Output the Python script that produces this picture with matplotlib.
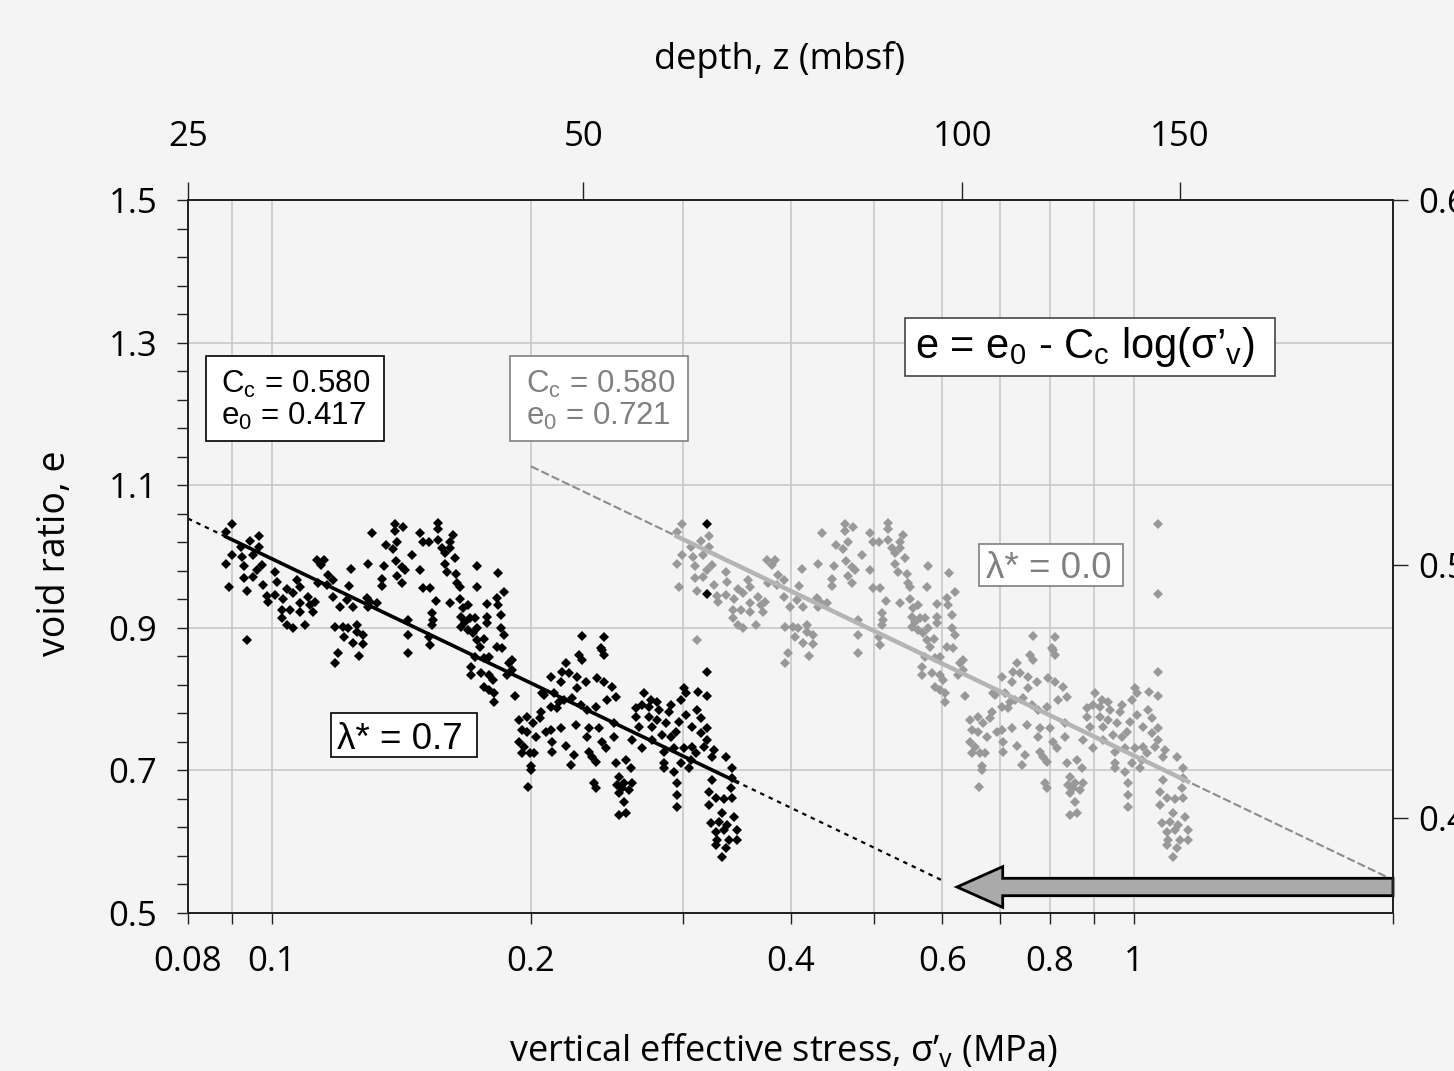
import numpy as np
import matplotlib.pyplot as plt
from matplotlib.patches import Rectangle, FancyArrow

plt.rcParams['font.family'] = ['Open Sans', 'DejaVu Sans']
plt.rcParams['mathtext.fontset'] = 'custom'
plt.rcParams['mathtext.rm'] = 'Liberation Sans'
plt.rcParams['mathtext.it'] = 'Liberation Sans'
plt.rcParams['mathtext.bf'] = 'Liberation Sans:bold'

# ---- data (lambda* = 0.7 case, black points) ----
stress_a = [0.0899, 0.0885, 0.0921, 0.0944, 0.0966, 0.0966, 0.0899, 0.0885, 0.0924, 0.0951,
            0.0929, 0.0974, 0.0961, 0.1009, 0.0929, 0.0951, 0.1014, 0.0892, 0.0936, 0.0977,
            0.1070, 0.1042, 0.1078, 0.0987, 0.1009, 0.0990, 0.1031, 0.1058, 0.1101, 0.1078,
            0.1108, 0.1122, 0.1028, 0.1050, 0.1078, 0.1116, 0.1028, 0.1042, 0.1058, 0.1093,
            0.0936, 0.1128, 0.1150, 0.1141, 0.1162, 0.1131, 0.1159, 0.1178, 0.1178, 0.1236,
            0.1229, 0.1200, 0.1222, 0.1242, 0.1184, 0.1209, 0.1225, 0.1255, 0.1213, 0.1255,
            0.1276, 0.1242, 0.1276, 0.1193, 0.1262, 0.1184, 0.1307, 0.1293, 0.1342, 0.1342,
            0.1349, 0.1356, 0.1289, 0.1300, 0.1324, 0.1293]
e_a = [1.046, 1.034, 1.013, 1.022, 1.029, 1.013, 1.002, 0.989, 0.999, 1.002,
       0.987, 0.988, 0.981, 0.978, 0.970, 0.971, 0.964, 0.957, 0.952, 0.960,
       0.967, 0.954, 0.957, 0.945, 0.946, 0.936, 0.940, 0.949, 0.943, 0.935,
       0.932, 0.936, 0.925, 0.925, 0.922, 0.922, 0.914, 0.904, 0.900, 0.904,
       0.883, 0.995, 0.995, 0.988, 0.974, 0.963, 0.960, 0.967, 0.943, 0.982,
       0.959, 0.929, 0.939, 0.929, 0.901, 0.901, 0.900, 0.904, 0.887, 0.894,
       0.890, 0.879, 0.877, 0.865, 0.860, 0.851, 1.033, 0.989, 0.968, 0.959,
       0.987, 1.016, 0.942, 0.936, 0.935, 0.929]

stress_b = [0.1389, 0.1419, 0.1389, 0.1382, 0.1400, 0.1454, 0.1393, 0.1416, 0.1427, 0.1400,
            0.1416, 0.1485, 0.1558, 0.1558, 0.1497, 0.1521, 0.1558, 0.1622, 0.1609, 0.1575,
            0.1588, 0.1609, 0.1631, 0.1588, 0.1485, 0.1600, 0.1639, 0.1643, 0.1653, 0.1497,
            0.1525, 0.1550, 0.1609, 0.1653, 0.1733, 0.1729, 0.1833, 0.1863, 0.1824, 0.1829,
            0.1776, 0.1666, 0.1688, 0.1661, 0.1675, 0.1697, 0.1720, 0.1661, 0.1688, 0.1711,
            0.1733, 0.1776, 0.1776, 0.1848, 0.1848, 0.1863, 0.1534, 0.1538, 0.1534, 0.1438,
            0.1438, 0.1438, 0.1521, 0.1525, 0.1729, 0.1762, 0.1743, 0.1824, 0.1853, 0.1720,
            0.1766, 0.1790, 0.1888, 0.1903, 0.1878, 0.1706, 0.1706, 0.1752, 0.1790, 0.1805,
            0.1790, 0.1814, 0.1914, 0.2062, 0.2112, 0.2175, 0.2169, 0.2198, 0.1903, 0.1814,
            0.1766]
e_b = [1.046, 1.041, 1.036, 1.011, 1.020, 1.002, 0.994, 0.985, 0.981, 0.973,
       0.963, 1.033, 1.047, 1.039, 1.020, 1.020, 1.023, 1.030, 1.020, 1.012,
       1.005, 1.012, 0.998, 0.989, 0.981, 0.978, 0.975, 0.963, 0.957, 0.956,
       0.956, 0.938, 0.935, 0.940, 0.987, 0.957, 0.977, 0.950, 0.942, 0.932,
       0.933, 0.928, 0.932, 0.915, 0.908, 0.914, 0.914, 0.901, 0.897, 0.893,
       0.900, 0.915, 0.907, 0.918, 0.900, 0.890, 0.921, 0.911, 0.904, 0.911,
       0.890, 0.865, 0.887, 0.876, 0.883, 0.884, 0.873, 0.873, 0.872, 0.859,
       0.858, 0.859, 0.851, 0.841, 0.834, 0.845, 0.834, 0.837, 0.834, 0.827,
       0.813, 0.809, 0.804, 0.809, 0.831, 0.838, 0.824, 0.851, 0.855, 0.796,
       0.817]

stress_c = [0.2276, 0.2294, 0.2420, 0.2433, 0.2216, 0.2264, 0.2319, 0.2388, 0.2433, 0.2485,
            0.2264, 0.2452, 0.2512, 0.2073, 0.2129, 0.2158, 0.2112, 0.2146, 0.2187, 0.2234,
            0.2288, 0.2325, 0.2381, 0.2056, 0.2046, 0.1939, 0.1981, 0.2008, 0.1950, 0.1981,
            0.2029, 0.2084, 0.2112, 0.2169, 0.2258, 0.2338, 0.2325, 0.2401, 0.2420, 0.2446,
            0.2499, 0.1939, 0.1965, 0.2018, 0.1950, 0.1992, 0.2118, 0.2118, 0.2198, 0.2246,
            0.2228, 0.2338, 0.2356, 0.2381, 0.2512, 0.2002, 0.2002, 0.1986, 0.2369, 0.2381,
            0.2518, 0.2532, 0.3202, 0.3202, 0.2294, 0.2433, 0.2413]
e_c = [0.862, 0.855, 0.869, 0.862, 0.837, 0.831, 0.824, 0.830, 0.824, 0.817,
       0.816, 0.799, 0.803, 0.806, 0.809, 0.796, 0.789, 0.788, 0.799, 0.802,
       0.792, 0.785, 0.789, 0.782, 0.774, 0.771, 0.775, 0.766, 0.757, 0.754,
       0.747, 0.754, 0.757, 0.759, 0.764, 0.759, 0.747, 0.759, 0.740, 0.731,
       0.766, 0.740, 0.733, 0.724, 0.724, 0.724, 0.740, 0.726, 0.734, 0.722,
       0.708, 0.726, 0.719, 0.712, 0.710, 0.706, 0.701, 0.677, 0.682, 0.675,
       0.680, 0.637, 1.046, 0.947, 0.889, 0.887, 0.872]

stress_d = [0.3202, 0.3012, 0.3027, 0.2988, 0.3126, 0.3202, 0.2707, 0.2758, 0.2802, 0.2649,
            0.2692, 0.2743, 0.2818, 0.2909, 0.2649, 0.2743, 0.2802, 0.2894, 0.3027, 0.3118,
            0.3151, 0.2671, 0.2765, 0.2870, 0.2972, 0.3077, 0.3202, 0.3151, 0.2499, 0.2622,
            0.2692, 0.2765, 0.2840, 0.2909, 0.2948, 0.2855, 0.2932, 0.3012, 0.3077, 0.3202,
            0.3177, 0.3109, 0.3263, 0.3368, 0.3245, 0.2855, 0.2855, 0.2988, 0.3068, 0.3052,
            0.2580, 0.2615, 0.2932, 0.3423, 0.3423, 0.3414, 0.3245, 0.3220, 0.3280, 0.3351,
            0.3423, 0.2532, 0.2566, 0.2622, 0.2553, 0.2601, 0.2532, 0.2566, 0.2956, 0.2956,
            0.2956, 0.2580, 0.3220, 0.3333, 0.3442, 0.3237, 0.3307, 0.3377, 0.3280, 0.3351,
            0.3469, 0.3288, 0.3396, 0.3469, 0.3280, 0.3368, 0.3333]
e_d = [0.838, 0.816, 0.809, 0.799, 0.810, 0.804, 0.809, 0.799, 0.796, 0.788,
       0.792, 0.789, 0.785, 0.792, 0.775, 0.775, 0.771, 0.782, 0.778, 0.785,
       0.774, 0.761, 0.761, 0.766, 0.768, 0.761, 0.760, 0.752, 0.747, 0.743,
       0.731, 0.743, 0.750, 0.747, 0.754, 0.726, 0.731, 0.731, 0.733, 0.743,
       0.733, 0.724, 0.729, 0.719, 0.719, 0.710, 0.703, 0.710, 0.715, 0.703,
       0.715, 0.703, 0.698, 0.703, 0.689, 0.675, 0.687, 0.670, 0.661, 0.660,
       0.661, 0.691, 0.682, 0.682, 0.675, 0.673, 0.668, 0.656, 0.682, 0.666,
       0.649, 0.640, 0.651, 0.640, 0.635, 0.626, 0.628, 0.623, 0.614, 0.616,
       0.616, 0.602, 0.602, 0.602, 0.595, 0.591, 0.579]

stress_black = np.array(stress_a + stress_b + stress_c + stress_d)
void_ratio = np.array(e_a + e_b + e_c + e_d)

# overpressure ratios and compression fits shown on the chart
lambda_star = [0.7, 0.0]
Cc = 0.580
e0 = [0.417, 0.721]
# gray points: same samples re-computed for hydrostatic pore pressure
stress_gray = stress_black / (1 - lambda_star[0])

black_dotted = [0.08, 0.6]
black_solid = [0.0885, 0.347]
gray_dashed = [0.2, 2.0]
gray_solid = [0.295, 1.157]

xticks = [0.08, 0.09, 0.1, 0.2, 0.3, 0.4, 0.5, 0.6, 0.7, 0.8, 0.9, 1.0, 2.0]
xticklabels = ['0.08', '', '0.1', '0.2', '', '0.4', '', '0.6', '', '0.8', '', '1', '']
yticks = [0.5, 0.7, 0.9, 1.1, 1.3, 1.5]
depth_ticks = [0.08, 0.230, 0.633, 1.131]
depth_labels = ['25', '50', '100', '150']
poro_ticks = [1.5, 0.988, 0.633]
poro_labels = ['0.6', '0.5', '0.4']

# ---- figure ----
W, H = 1454, 1071
L, R, T, B = 188, 1393, 200, 913
bg = '#f4f4f4'
tick_fs = 25
fig = plt.figure(figsize=(W / 100, H / 100), dpi=100)
fig.patch.set_facecolor(bg)
ax = fig.add_axes([L / W, 1 - B / H, (R - L) / W, (B - T) / H])
ax.set_facecolor(bg)
ax.set_xscale('log')
ax.set_xlim(0.08, 2.0)
ax.set_ylim(0.5, 1.5)
ax.set_xticks(xticks)
ax.set_xticklabels(xticklabels)
ax.xaxis.set_minor_locator(plt.NullLocator())
ax.set_yticks(yticks)
ax.set_yticks(np.arange(0.5, 1.5001, 0.04), minor=True)
ax.set_axisbelow(True)
ax.grid(True, which='major', color='#c8c8c8', lw=1.2)
ax.tick_params(axis='x', which='major', direction='out', length=8, width=1,
               pad=15, labelsize=tick_fs, color='#222')
ax.tick_params(axis='y', which='both', direction='out', length=8, width=1,
               pad=14, labelsize=tick_fs, color='#222')
for sp in ax.spines.values():
    sp.set_color('#222')
    sp.set_linewidth(1.1)

# top depth axis
axt = ax.twiny()
axt.set_xscale('log')
axt.set_xlim(0.08, 2.0)
axt.set_xticks(depth_ticks)
axt.set_xticklabels(depth_labels)
axt.xaxis.set_minor_locator(plt.NullLocator())
axt.tick_params(axis='x', direction='out', length=13, width=1, pad=20,
                labelsize=tick_fs, color='#222')
axt.patch.set_visible(False)

# right porosity axis
axr = ax.twinx()
axr.set_ylim(0.5, 1.5)
axr.set_yticks(poro_ticks)
axr.set_yticklabels(poro_labels)
axr.tick_params(axis='y', direction='out', length=11, width=1, pad=7,
                labelsize=tick_fs, color='#222')
axr.patch.set_visible(False)
for a in (axt, axr):
    for sp in a.spines.values():
        sp.set_color('#222')
        sp.set_linewidth(1.1)

# scatter
ax.plot(stress_black, void_ratio, 'D', ms=5.2, color='black', mew=0, zorder=3)
ax.plot(stress_gray, void_ratio, 'D', ms=5.2, color='#999999', mew=0, zorder=3)

# compression lines  e = e0 - Cc log(sigma)
x = np.array(black_dotted)
ax.plot(x, e0[0] - Cc * np.log10(x), color='black', lw=1.6, ls=(0, (2, 2.2)), zorder=4)
x = np.array(black_solid)
ax.plot(x, e0[0] - Cc * np.log10(x), color='black', lw=2.6, zorder=4)
x = np.array(gray_dashed)
ax.plot(x, e0[1] - Cc * np.log10(x), color='#8c8c8c', lw=1.5, ls=(0, (4, 1.5)), zorder=4)
x = np.array(gray_solid)
ax.plot(x, e0[1] - Cc * np.log10(x), color='#b4b4b4', lw=3.2, zorder=4)


def axf(px, py):
    return (px - L) / (R - L), (B - py) / (B - T)


def box(x0, y0, x1, y1, ec):
    fx, fy = axf(x0, y1)
    ax.add_patch(Rectangle((fx, fy), (x1 - x0) / (R - L), (y1 - y0) / (B - T),
                           transform=ax.transAxes, fc='white', ec=ec, lw=1.2,
                           zorder=6, clip_on=False))


def label(px, py, s, size, color='black'):
    fx, fy = axf(px, py)
    ax.text(fx, fy, s, transform=ax.transAxes, ha='left', va='baseline',
            fontsize=size, color=color, family='Liberation Sans', zorder=7)


box(206, 356, 384, 441, 'black')
label(221, 393, 'C$_\\mathrm{c}$ = 0.580', 22.5)
label(221, 425, 'e$_\\mathrm{0}$ = 0.417', 22.5)

box(510, 356, 688, 441, '#808080')
label(526, 393, 'C$_\\mathrm{c}$ = 0.580', 22.5, '#808080')
label(526, 425, 'e$_\\mathrm{0}$ = 0.721', 22.5, '#808080')

box(905, 318, 1275, 376, '#444444')
label(915, 358, 'e = e$_\\mathrm{0}$ - C$_\\mathrm{c}$ log(σ’$_\\mathrm{v}$)', 30)

box(331, 713, 477, 757, 'black')
label(337, 749, 'λ* = ' + str(lambda_star[0]), 26.5)

box(979, 544, 1123, 586, '#808080')
label(986, 578, 'λ* = ' + str(lambda_star[1]), 26.5, '#808080')

# arrow along the bottom
tip_x, _ = axf(957, 0)
_, ay = axf(0, 887)
ax.add_patch(FancyArrow(1.0, ay, tip_x - 1.0, 0, width=17.4 / (B - T),
                        head_width=40.7 / (B - T), head_length=45.7 / (R - L),
                        length_includes_head=True, transform=ax.transAxes,
                        fc='#aaaaaa', ec='black', lw=2, zorder=6, clip_on=False))

# axis titles
fig.text(55 / W, 1 - 553 / H, 'void ratio, e', rotation=90, ha='center', va='center',
         fontsize=27)
fig.text(780 / W, 1 - 60 / H, 'depth, z (mbsf)', ha='center', va='center', fontsize=26)
fig.text(783 / W, 1 - 1061 / H, 'vertical effective stress, σ’$_\\mathrm{v}$ (MPa)',
         ha='center', va='baseline', fontsize=26)

fig.savefig('out.png', dpi=100, facecolor=bg)
